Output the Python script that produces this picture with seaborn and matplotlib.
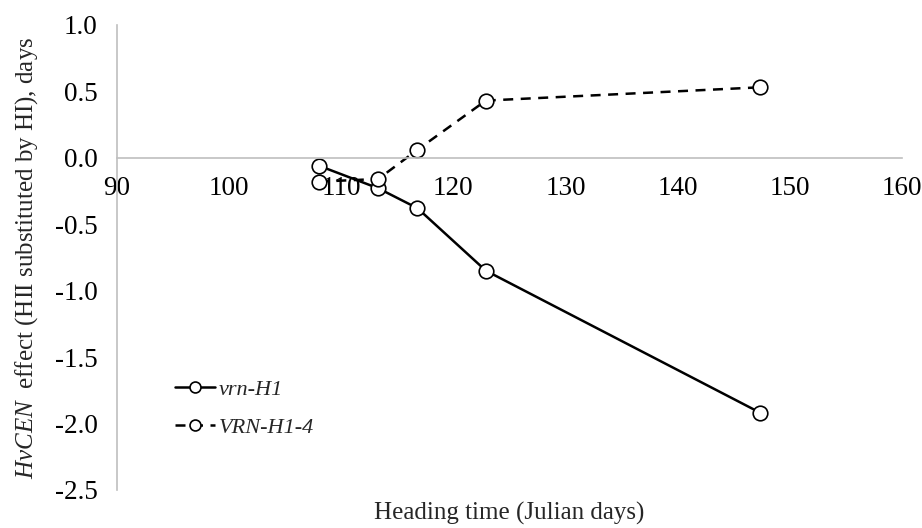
import matplotlib
matplotlib.use("Agg")
import matplotlib.pyplot as plt
import seaborn as sns

# Heading time (Julian days) and HvCEN effect for each VRN-H1 background
heading_vrn = [108.0, 113.3, 116.8, 122.9, 147.4]
effect_vrn = [-0.06, -0.23, -0.38, -0.85, -1.92]
heading_VRN4 = [108.0, 113.3, 116.8, 122.9, 147.4]
effect_VRN4 = [-0.18, -0.16, 0.06, 0.43, 0.53]
x_ticks = [90, 100, 110, 120, 130, 140, 150, 160]
y_ticks = [1.0, 0.5, 0.0, -0.5, -1.0, -1.5, -2.0, -2.5]

sns.set_style("white")
plt.rcParams["font.family"] = ["Liberation Serif", "DejaVu Serif"]
plt.rcParams["mathtext.fontset"] = "custom"
plt.rcParams["mathtext.it"] = "Liberation Serif:italic"
plt.rcParams["mathtext.rm"] = "Liberation Serif"

fig = plt.figure(figsize=(9.22, 5.28), dpi=100)
ax = fig.add_axes([0.127, 0.072, 0.851, 0.881])

marker_kw = dict(marker="o", markersize=10.5, markerfacecolor="white",
                 markeredgecolor="black", markeredgewidth=1.2)
sns.lineplot(x=heading_vrn, y=effect_vrn, ax=ax, color="black", linewidth=1.8,
             label="vrn-H1", **marker_kw)
sns.lineplot(x=heading_VRN4, y=effect_VRN4, ax=ax, color="black", linewidth=1.8,
             linestyle=(0, (4, 3)), label="VRN-H1-4", **marker_kw)

ax.set_xlim(90, 160)
ax.set_ylim(-2.5, 1.0)
ax.set_xticks(x_ticks)
ax.set_yticks(y_ticks)
ax.set_yticklabels([f"{v:.1f}" for v in y_ticks])

# x axis drawn through zero, like the spreadsheet original
ax.spines["bottom"].set_position(("data", 0))
for side in ["top", "right"]:
    ax.spines[side].set_visible(False)
for side in ["left", "bottom"]:
    ax.spines[side].set_color("#bfbfbf")
    ax.spines[side].set_linewidth(1.2)
ax.tick_params(axis="both", length=0, labelsize=19.5, colors="black")
ax.tick_params(axis="x", pad=13)
ax.tick_params(axis="y", pad=14)
ax.set_zorder(1)

ax.set_ylabel(r"$\mathit{HvCEN}$  effect (HII substituted by HI), days", fontsize=18)
ax.yaxis.set_label_coords(-0.098, 0.5)
ax.set_xlabel("Heading time (Julian days)", fontsize=18, va="center")
ax.xaxis.set_label_coords(0.5, -0.05)

leg = ax.legend(loc="center left", bbox_to_anchor=(0.074, 0.175), frameon=False,
                borderpad=0, borderaxespad=0, handlelength=1.8, labelspacing=0.8,
                handletextpad=0.15, markerscale=0.75,
                prop={"family": "Liberation Serif", "style": "italic", "size": 16})

fig.savefig("out.png", dpi=100)
plt.close(fig)
